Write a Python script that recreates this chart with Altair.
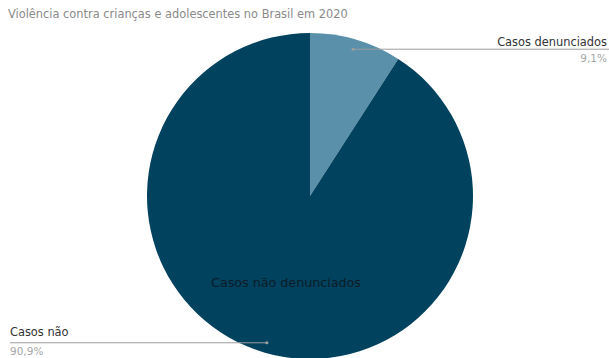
import math
import altair as alt
import pandas as pd

categories = ["Casos denunciados", "Casos não denunciados"]
values = [9.1, 90.9]
labels_out = ["Casos denunciados", "Casos não"]
pct_text = ["9,1%", "90,9%"]
colors = ["#5a90aa", "#01425f"]

W, H = 609, 358
CX, CY, R = 310, 196, 163

df = pd.DataFrame({"cat": categories, "val": values, "order": [0, 1]})

base = alt.Chart(df)
pie = base.mark_arc(radius=R, stroke=None).encode(
    theta=alt.Theta("val:Q", stack=True),
    color=alt.Color("cat:N", scale=alt.Scale(domain=categories, range=colors), legend=None),
    order=alt.Order("order:Q"),
    x=alt.value(CX), y=alt.value(CY),
)

# anchor points from slice mid-angles
total = sum(values)
anchors = []
start = 0.0
for v in values:
    mid = (start + v / 2) / total * 2 * math.pi
    anchors.append((CX + 153 * math.sin(mid), CY - 153 * math.cos(mid)))
    start += v

layers = [pie]
font = "DejaVu Sans"
# top-right label (small slice)
ax, ay = anchors[0]
layers.append(alt.Chart(pd.DataFrame({"a": [0]})).mark_rule(color="#9e9e9e", strokeWidth=1).encode(
    x=alt.value(ax), x2=alt.value(W), y=alt.value(ay)))
layers.append(alt.Chart(pd.DataFrame({"a": [0]})).mark_point(filled=True, size=10, color="#9e9e9e", opacity=1).encode(
    x=alt.value(ax), y=alt.value(ay)))
layers.append(alt.Chart(pd.DataFrame({"t": [labels_out[0]]})).mark_text(
    align="right", baseline="alphabetic", fontSize=11.4, font=font, color="#333").encode(
    text="t:N", x=alt.value(W - 2), y=alt.value(ay - 3)))
layers.append(alt.Chart(pd.DataFrame({"t": [pct_text[0]]})).mark_text(
    align="right", baseline="alphabetic", fontSize=10.5, font=font, color="#a6a6a6").encode(
    text="t:N", x=alt.value(W - 2), y=alt.value(ay + 13)))

# bottom-left label (big slice)
bx, by = anchors[1]
layers.append(alt.Chart(pd.DataFrame({"a": [0]})).mark_rule(color="#9e9e9e", strokeWidth=1).encode(
    x=alt.value(10), x2=alt.value(bx), y=alt.value(by)))
layers.append(alt.Chart(pd.DataFrame({"a": [0]})).mark_point(filled=True, size=10, color="#9e9e9e", opacity=1).encode(
    x=alt.value(bx), y=alt.value(by)))
layers.append(alt.Chart(pd.DataFrame({"t": [labels_out[1]]})).mark_text(
    align="left", baseline="alphabetic", fontSize=11.4, font=font, color="#333").encode(
    text="t:N", x=alt.value(10), y=alt.value(by - 7)))
layers.append(alt.Chart(pd.DataFrame({"t": [pct_text[1]]})).mark_text(
    align="left", baseline="alphabetic", fontSize=10.5, font=font, color="#a6a6a6").encode(
    text="t:N", x=alt.value(10), y=alt.value(by + 12)))

# inner label
layers.append(alt.Chart(pd.DataFrame({"t": [categories[1]]})).mark_text(
    align="center", baseline="middle", fontSize=12.7, font=font, color="#081c27").encode(
    text="t:N", x=alt.value(286), y=alt.value(283)))

# title
layers.append(alt.Chart(pd.DataFrame({"t": ["Violência contra crianças e adolescentes no Brasil em 2020"]})).mark_text(
    align="left", baseline="alphabetic", fontSize=11.4, font=font, color="#8a8a8a").encode(
    text="t:N", x=alt.value(8), y=alt.value(18)))

chart = alt.layer(*layers).properties(
    width=W, height=H, padding=0, autosize=alt.AutoSizeParams(type="none")
).configure_view(stroke=None)

chart.save("out.html", embed_options={"renderer": "svg", "actions": False})
